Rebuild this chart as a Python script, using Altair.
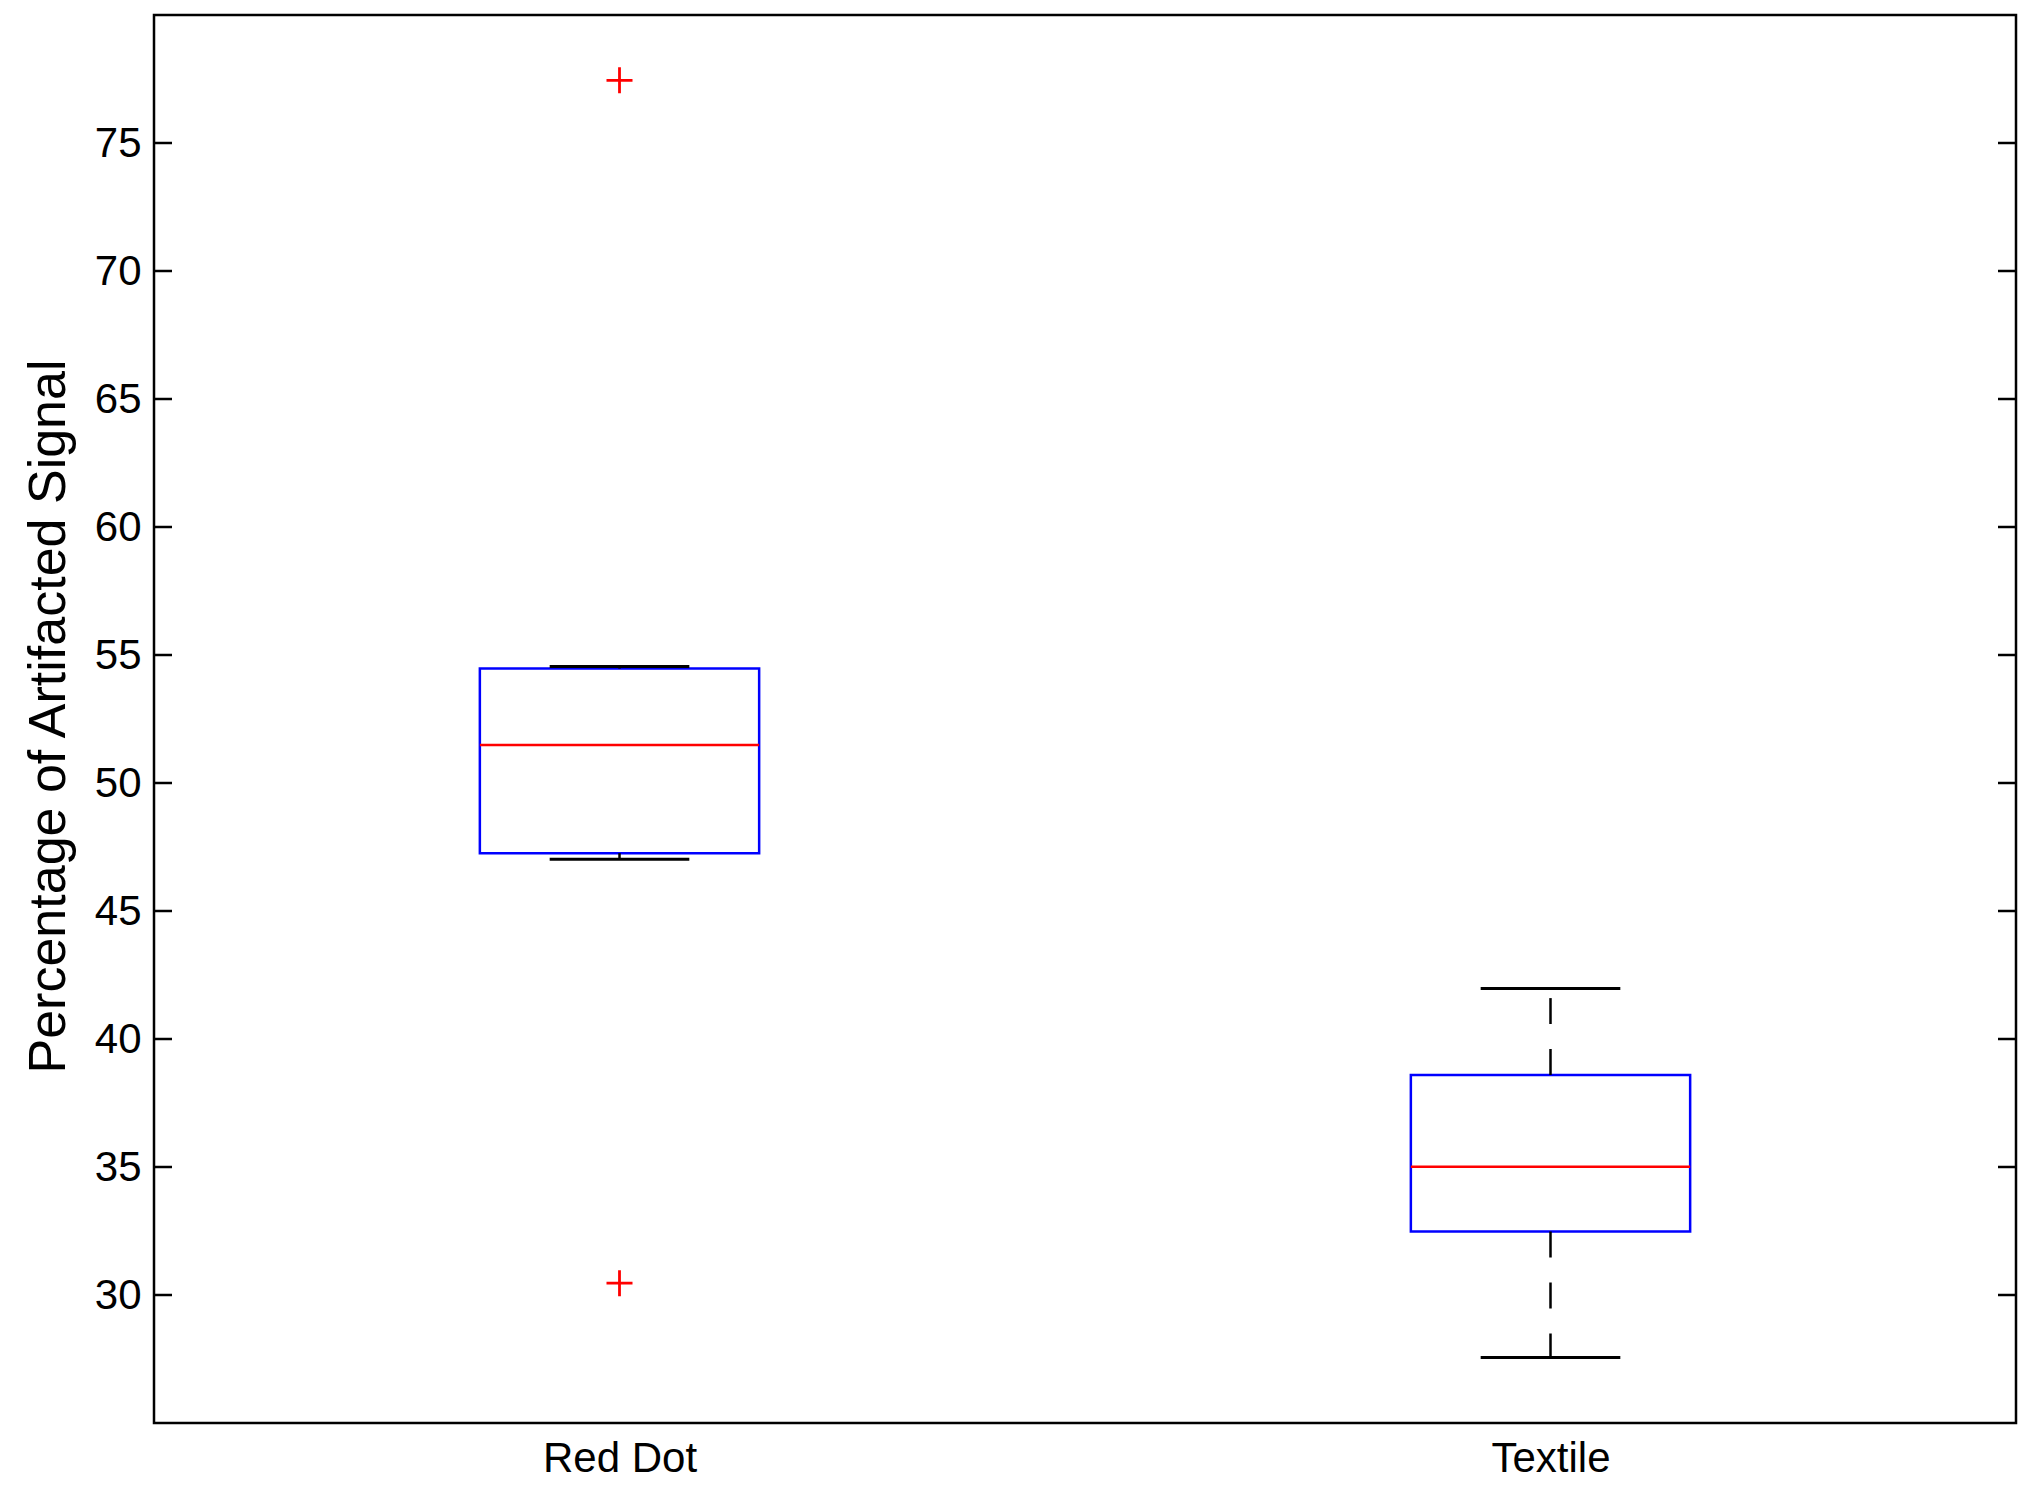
import altair as alt
import pandas as pd

# ---- data ----
categories = ["Red Dot", "Textile"]
q1 = [47.26, 32.48]
median = [51.48, 35.01]
q3 = [54.47, 38.59]
whisker_low = [47.02, 27.56]
whisker_high = [54.55, 41.97]
outlier_cat = ["Red Dot", "Red Dot"]
outlier_val = [77.45, 30.46]
y_ticks = [30, 35, 40, 45, 50, 55, 60, 65, 70, 75]

# ---- layout / style ----
W, H = 1862, 1408
BOX_HALF = 0.15
CAP_HALF = 0.075
FONT = "Liberation Sans"
TICK_LEN = 18
LW = 2.5

pos = [i + 1 for i in range(len(categories))]
box = pd.DataFrame({
    "cat": categories, "pos": pos,
    "q1": q1, "median": median, "q3": q3,
    "lo": whisker_low, "hi": whisker_high,
})
box["bx1"] = box["pos"] - BOX_HALF
box["bx2"] = box["pos"] + BOX_HALF
box["cx1"] = box["pos"] - CAP_HALF
box["cx2"] = box["pos"] + CAP_HALF

out = pd.DataFrame({"cat": outlier_cat, "val": outlier_val})
out["pos"] = out["cat"].map({c: i + 1 for i, c in enumerate(categories)})

ticks = pd.DataFrame({"v": y_ticks})

label_expr = " : ".join(
    [f"datum.value == {p} ? '{c}'" for p, c in zip(pos, categories)]
) + " : ''"

xscale = alt.Scale(domain=[0.5, len(categories) + 0.5], nice=False, zero=False)
yscale = alt.Scale(domain=[25, 80], nice=False, zero=False)

xaxis = alt.Axis(values=pos, labelExpr=label_expr, ticks=False, tickSize=0,
                 domain=False, grid=False, labelFont=FONT, labelFontSize=42,
                 labelColor="black", labelPadding=15, title=None)
yaxis = alt.Axis(values=y_ticks, ticks=False, tickSize=0, domain=False, grid=False,
                 labelFont=FONT, labelFontSize=42, labelColor="black",
                 labelPadding=13,
                 title="Percentage of Artifacted Signal",
                 titleFont=FONT, titleFontSize=52, titleFontWeight="normal",
                 titleColor="black", titleX=-90, titleY=701,
                 titleAngle=270, titleAlign="center", titleBaseline="alphabetic")

base = alt.Chart(box)

rects = base.mark_rect(stroke="#0000ff", strokeWidth=LW, fillOpacity=0, fill="white").encode(
    x=alt.X("bx1:Q", scale=xscale, axis=xaxis),
    x2="bx2:Q",
    y=alt.Y("q1:Q", scale=yscale, axis=yaxis),
    y2="q3:Q",
)

medians = base.mark_rule(color="#ff0000", strokeWidth=LW).encode(
    x=alt.X("bx1:Q", scale=xscale), x2="bx2:Q",
    y=alt.Y("median:Q", scale=yscale),
)

whisk_up = base.mark_rule(color="black", strokeWidth=LW, strokeDash=[26, 25]).encode(
    x=alt.X("pos:Q", scale=xscale),
    y=alt.Y("q3:Q", scale=yscale), y2="hi:Q",
)
whisk_dn = base.mark_rule(color="black", strokeWidth=LW, strokeDash=[26, 25]).encode(
    x=alt.X("pos:Q", scale=xscale),
    y=alt.Y("q1:Q", scale=yscale), y2="lo:Q",
)

cap_up = base.mark_rule(color="black", strokeWidth=3).encode(
    x=alt.X("cx1:Q", scale=xscale), x2="cx2:Q",
    y=alt.Y("hi:Q", scale=yscale),
)
cap_dn = base.mark_rule(color="black", strokeWidth=3).encode(
    x=alt.X("cx1:Q", scale=xscale), x2="cx2:Q",
    y=alt.Y("lo:Q", scale=yscale),
)

outliers = alt.Chart(out).mark_point(
    shape="M-1,0L1,0M0,-1L0,1", filled=False, color="#ff0000",
    strokeWidth=2.8, size=676, opacity=1,
).encode(
    x=alt.X("pos:Q", scale=xscale),
    y=alt.Y("val:Q", scale=yscale),
)

lticks = alt.Chart(ticks).mark_rule(color="black", strokeWidth=LW).encode(
    x=alt.value(0), x2=alt.value(TICK_LEN),
    y=alt.Y("v:Q", scale=yscale),
)
rticks = alt.Chart(ticks).mark_rule(color="black", strokeWidth=LW).encode(
    x=alt.value(W - TICK_LEN), x2=alt.value(W),
    y=alt.Y("v:Q", scale=yscale),
)

chart = alt.layer(
    rects, whisk_up, whisk_dn, cap_up, cap_dn, medians, outliers, lticks, rticks
).properties(
    width=W, height=H,
    background="white",
    autosize=alt.AutoSizeParams(type="none"),
    padding={"left": 146, "top": 7, "right": 6, "bottom": 57},
).configure_view(
    stroke="black", strokeWidth=2.5
)

chart.save("out.html", embed_options={"renderer": "svg", "actions": False})
